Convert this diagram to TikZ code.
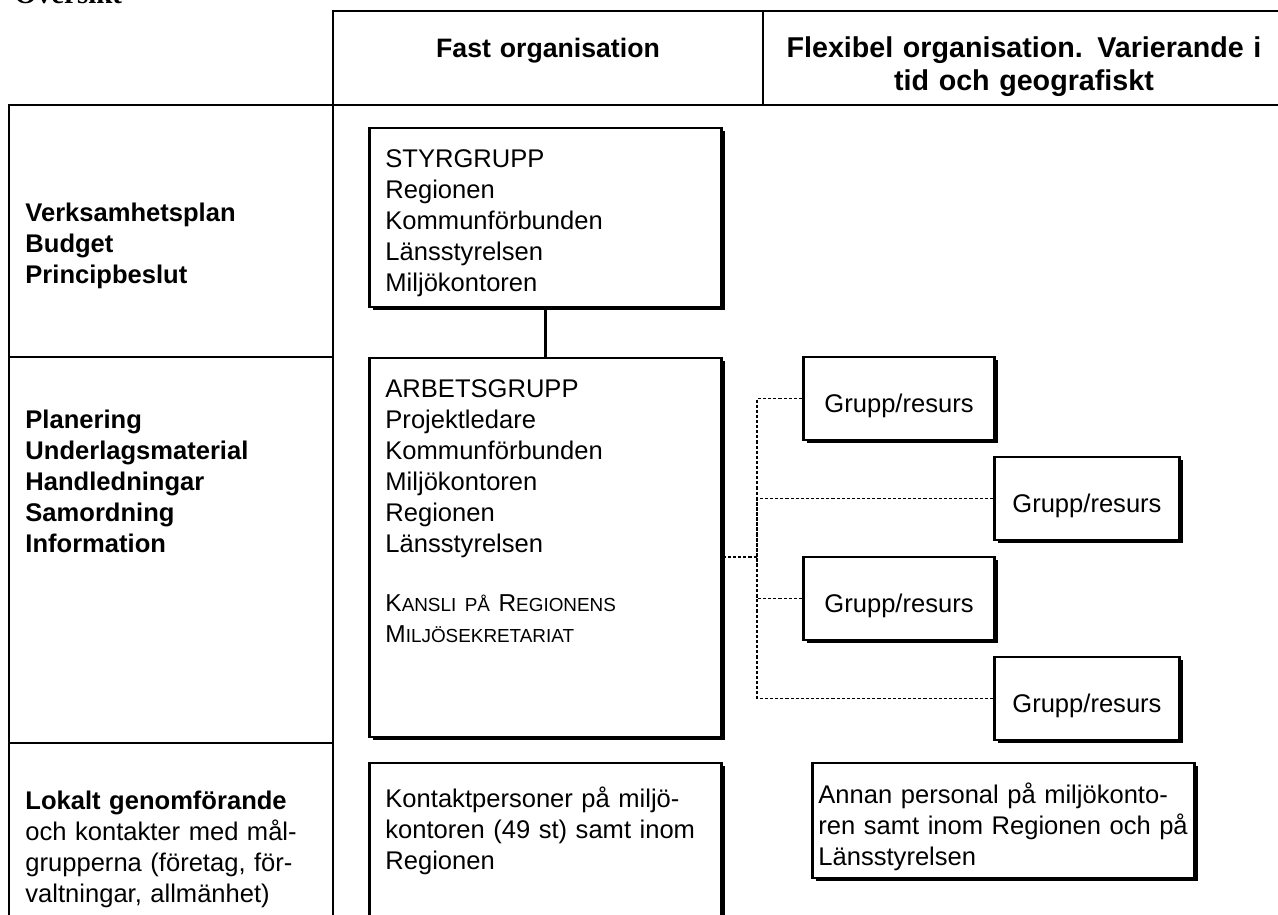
\documentclass[tikz,border=0pt]{standalone}
\usepackage{fontspec}
\setmainfont{Liberation Sans}
\newfontfamily\titlefont{Liberation Serif}
\usetikzlibrary{positioning,shadows}

\newcommand\bodyfont{\fontsize{11.5}{14}\selectfont}
\newcommand\headfont{\fontsize{12}{15.3}\selectfont\bfseries}
\newcommand\flexfont{\fontsize{12.9}{14.9}\selectfont\bfseries}
\newcommand\scword[2]{{\fontsize{11}{14}\selectfont #1}{\fontsize{8.5}{14}\selectfont #2}}

\tikzset{
	orgbox/.style={draw, line width=1.3pt, fill=white, anchor=base west, align=left,
		inner ysep=0pt, inner xsep=7.2pt, text width=144pt,
		drop shadow={shadow xshift=1.5pt, shadow yshift=-1.5pt, opacity=1, fill=black}},
	grpbox/.style={orgbox, align=center, inner xsep=0pt, text height=24.75pt, text depth=12.6pt},
	rowlabel/.style={anchor=base west, align=left, text width=135pt, inner sep=0pt, font=\bodyfont\bfseries},
	rule/.style={line width=1.2pt},
	link/.style={line width=0.6pt, dash pattern=on 1.4pt off 0.9pt}
}

\begin{document}
\begin{tikzpicture}[x=0.45pt, y=-0.45pt, font=\bodyfont]
	\useasboundingbox (0,0) rectangle (1278,915);
	\node[anchor=base west, inner sep=0pt, font=\titlefont\bfseries\fontsize{13}{15}\selectfont] (title) at (14,3) {Översikt};

	% table
	\draw[rule] (1278,11) -- (333,11) -- (333,105) -- (1278,105);
	\draw[rule] (763,11) -- (763,105);
	\draw[rule] (9,915) -- (9,105) -- (333,105) -- (333,915);
	\draw[rule] (9,357) -- (333,357);
	\draw[rule] (9,743) -- (333,743);

	\node[anchor=base, align=center, text width=120pt, inner sep=0pt, font=\headfont] (fast) at (548,57) {Fast organisation};
	\node[anchor=base, align=center, text width=230pt, inner sep=0pt, font=\flexfont] (flex) at (1024,57) {Flexibel organisation. Varierande i\\tid och geografiskt};

	\node[rowlabel] (plan) at (25,221) {Verksamhetsplan\\Budget\\Principbeslut};
	\node[rowlabel] (work) at (25,428) {Planering\\Underlagsmaterial\\Handledningar\\Samordning\\Information};
	\node[rowlabel, font=\bodyfont] (local) at (25,809) {\textbf{Lokalt genomförande}\\och kontakter med mål-\\grupperna (företag, för-\\valtningar, allmänhet)};

	% fixed organisation
	\node[orgbox, text height=17.55pt, text depth=63pt] (styr) at (368,167) {STYRGRUPP\\Regionen\\Kommunförbunden\\Länsstyrelsen\\Miljökontoren};
	\node[orgbox, text height=17.55pt, text depth=153pt] (arb) at (368,397) {ARBETSGRUPP\\Projektledare\\Kommunförbunden\\Miljökontoren\\Regionen\\Länsstyrelsen\\[12.5pt]\scword{K}{ANSLI PÅ} \scword{R}{EGIONENS}\\\scword{M}{ILJÖSEKRETARIAT}};
	\node[orgbox, text height=19.8pt, text depth=70pt] (kontakt) at (368,807) {Kontaktpersoner på miljö-\\kontoren (49 st) samt inom\\Regionen};

	% flexible organisation
	\node[grpbox, text width=86pt] (g1) at (802,412) {Grupp/resurs};
	\node[grpbox, text width=83.25pt] (g2) at (993,512) {Grupp/resurs};
	\node[grpbox, text width=86pt] (g3) at (802,612) {Grupp/resurs};
	\node[grpbox, text width=83.25pt] (g4) at (993,712) {Grupp/resurs};
	\node[orgbox, inner xsep=2.7pt, text width=166.5pt, text height=18pt, text depth=33.75pt] (annan) at (811,803) {Annan personal på miljökonto-\\ren samt inom Regionen och på\\Länsstyrelsen};

	\draw[rule] (styr) -- (arb);
	\coordinate (hub) at (757,557);
	\draw[link] (arb.east |- hub) -- (hub);
	\foreach \g in {g1,g2,g3,g4}
		\draw[link] (\g.west) -| (hub);
\end{tikzpicture}
\end{document}
